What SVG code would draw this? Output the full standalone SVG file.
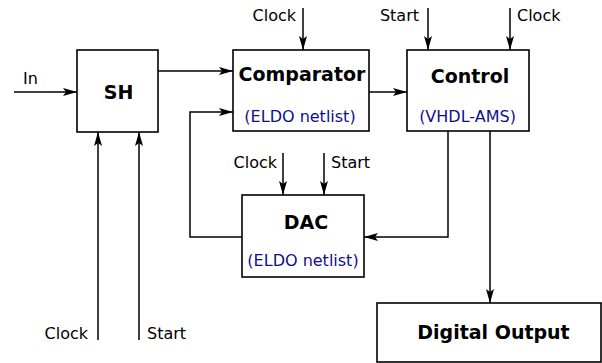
<svg xmlns="http://www.w3.org/2000/svg" width="602" height="363" viewBox="0 0 602 363">
<defs>
<marker id="arr" markerWidth="15" markerHeight="10" refX="14" refY="5" orient="auto" markerUnits="userSpaceOnUse">
<path d="M0,1 L14,5 L0,9 L3,5 Z" fill="#000"/>
</marker>
<style>
.box{fill:#fff;stroke:#000;stroke-width:1.6}
.ln{fill:none;stroke:#000;stroke-width:1.5}
.t{font-family:"DejaVu Sans",sans-serif;font-size:16px;fill:#000}
.b{font-family:"DejaVu Sans",sans-serif;font-size:19px;font-weight:bold;fill:#000;text-anchor:middle}
.s{font-family:"DejaVu Sans",sans-serif;font-size:16px;fill:#10108c;text-anchor:middle}
</style>
</defs>
<rect width="602" height="363" fill="#fff"/>
<g id="connectors">
<path class="ln" d="M14,92 H77" marker-end="url(#arr)"/>
<path class="ln" d="M158,71 H233" marker-end="url(#arr)"/>
<path class="ln" d="M369,92 H407" marker-end="url(#arr)"/>
<path class="ln" d="M303,8 V50" marker-end="url(#arr)"/>
<path class="ln" d="M428,8 V50" marker-end="url(#arr)"/>
<path class="ln" d="M510,8 V50" marker-end="url(#arr)"/>
<path class="ln" d="M242,237 H190 V112 H233" marker-end="url(#arr)"/>
<path class="ln" d="M283,153 V195" marker-end="url(#arr)"/>
<path class="ln" d="M324,153 V195" marker-end="url(#arr)"/>
<path class="ln" d="M448,131 V237 H364" marker-end="url(#arr)"/>
<path class="ln" d="M490,131 V303" marker-end="url(#arr)"/>
<path class="ln" d="M98,340 V132" marker-end="url(#arr)"/>
<path class="ln" d="M139,340 V132" marker-end="url(#arr)"/>
<text class="t" x="23" y="84">In</text>
<text class="t" x="296" y="21" text-anchor="end">Clock</text>
<text class="t" x="419" y="21" text-anchor="end">Start</text>
<text class="t" x="517" y="21">Clock</text>
<text class="t" x="277" y="168" text-anchor="end">Clock</text>
<text class="t" x="331" y="168">Start</text>
<text class="t" x="88" y="339" text-anchor="end">Clock</text>
<text class="t" x="147" y="339">Start</text>
</g>
<g id="SH">
<rect class="box" x="77" y="50" width="81" height="82"/>
<text class="b" x="118.5" y="99">SH</text>
</g>
<g id="Comparator">
<rect class="box" x="233" y="50" width="136" height="81"/>
<text class="b" x="302" y="81">Comparator</text>
<text class="s" x="300" y="122">(ELDO netlist)</text>
</g>
<g id="Control">
<rect class="box" x="407" y="50" width="122" height="81"/>
<text class="b" x="470" y="83">Control</text>
<text class="s" x="467.5" y="122">(VHDL-AMS)</text>
</g>
<g id="DAC">
<rect class="box" x="242" y="195" width="122" height="82"/>
<text class="b" x="306" y="229">DAC</text>
<text class="s" x="303" y="266">(ELDO netlist)</text>
</g>
<g id="DigitalOutput">
<rect class="box" x="377" y="303" width="224" height="59"/>
<text class="b" x="493.5" y="339">Digital Output</text>
</g>
</svg>
